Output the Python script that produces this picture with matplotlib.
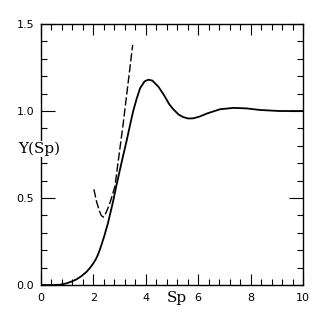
import matplotlib.pyplot as plt
from matplotlib.ticker import MultipleLocator

# courbe pleine Y(Sp)
sp_plein = [0.0, 0.5, 0.73, 0.98, 1.17, 1.36, 1.55, 1.74, 1.88, 2.0, 2.1, 2.19, 2.27, 2.35,
            2.42, 2.48, 2.55, 2.61, 2.69, 2.76, 2.89, 3.1, 3.27, 3.4, 3.52, 3.65, 3.78, 3.95,
            4.1, 4.25, 4.48, 4.7, 4.89, 5.05, 5.25, 5.43, 5.62, 5.81, 6.05, 6.32, 6.83,
            7.34, 7.85, 8.36, 9.1, 10.0]
y_plein = [0.0, 0.0, 0.002, 0.01, 0.02, 0.033, 0.052, 0.076, 0.1, 0.125, 0.15, 0.18, 0.213,
           0.25, 0.283, 0.316, 0.352, 0.39, 0.44, 0.486, 0.58, 0.72, 0.83, 0.92, 1.0, 1.07,
           1.13, 1.17, 1.18, 1.175, 1.14, 1.09, 1.04, 1.01, 0.98, 0.965, 0.957, 0.958,
           0.968, 0.985, 1.01, 1.018, 1.015, 1.006, 1.0, 1.0]

# courbe en tirets
sp_tirets = [2.02, 2.12, 2.22, 2.3, 2.38, 2.45, 2.55, 2.65, 2.82, 3.14, 3.5]
y_tirets = [0.55, 0.48, 0.43, 0.40, 0.39, 0.405, 0.44, 0.48, 0.565, 0.93, 1.38]

plt.rcParams['font.family'] = 'DejaVu Sans'
fig = plt.figure(figsize=(3.2, 3.16), dpi=100)
ax = fig.add_axes([0.128, 0.098, 0.819, 0.826])

ax.plot(sp_plein, y_plein, color='black', lw=1.3)
ax.plot(sp_tirets, y_tirets, color='black', lw=1.0, dashes=(6, 2))

ax.set_xlim(0, 10)
ax.set_ylim(0, 1.5)
ax.xaxis.set_major_locator(MultipleLocator(2))
ax.xaxis.set_minor_locator(MultipleLocator(0.4))
ax.yaxis.set_minor_locator(MultipleLocator(0.1))
ax.set_yticks([0, 0.5, 1.0, 1.5])
ax.set_yticklabels(['0.0', '0.5', '1.0', '1.5'])
ax.tick_params(which='both', direction='in', top=True, right=True, labelsize=8, width=0.8)
ax.tick_params(which='major', axis='x', length=8, pad=6)
ax.tick_params(which='major', axis='y', length=10, pad=5)
ax.tick_params(which='minor', length=4)
for s in ax.spines.values():
    s.set_linewidth(1.0)

ax.text(-0.08, 0.78, 'Y(Sp)', fontsize=11, family='DejaVu Serif', ha='center', va='center',
        bbox=dict(facecolor='white', edgecolor='none', pad=0.5), clip_on=False)
ax.text(5.2, -0.075, 'Sp', fontsize=11, family='DejaVu Serif', ha='center', va='center',
        clip_on=False)

fig.savefig('out.png', dpi=100)
